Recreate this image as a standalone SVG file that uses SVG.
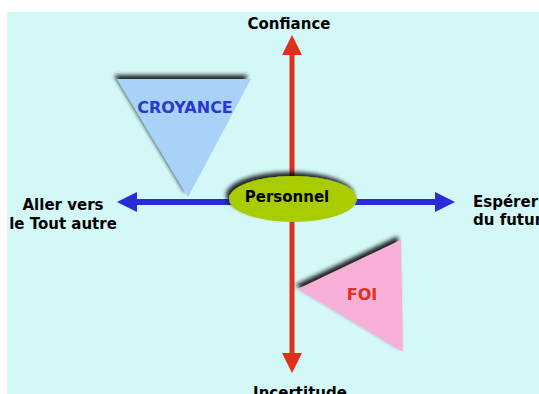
<svg xmlns="http://www.w3.org/2000/svg" width="539" height="394" viewBox="0 0 539 394">
<defs>
<style>
.lbl{font-family:"DejaVu Sans",Verdana,sans-serif;font-weight:bold;font-size:15px;fill:#000}
.in{font-family:"DejaVu Sans",Verdana,sans-serif;font-weight:bold;font-size:16px}
</style>
<filter id="sh" x="-30%" y="-30%" width="160%" height="160%">
<feGaussianBlur in="SourceAlpha" stdDeviation="2"/>
<feOffset dx="-3" dy="-4" result="b"/>
<feComponentTransfer><feFuncA type="linear" slope="0.85"/></feComponentTransfer>
<feMerge><feMergeNode/><feMergeNode in="SourceGraphic"/></feMerge>
</filter>
<marker id="rh" viewBox="0 0 20 20" refX="2" refY="10" markerWidth="20" markerHeight="20" markerUnits="userSpaceOnUse" orient="auto"><path d="M0,0 L20,10 L0,20 z" fill="#e0301c"/></marker>
<marker id="bh" viewBox="0 0 20 20" refX="2" refY="10" markerWidth="20" markerHeight="20" markerUnits="userSpaceOnUse" orient="auto"><path d="M0,0 L20,10 L0,20 z" fill="#2a2ad8"/></marker>
</defs>
<rect x="0" y="0" width="539" height="394" fill="#fff"/>
<rect x="7" y="12" width="532" height="382" fill="#d4f8f8"/>
<g id="connectors">
<line x1="292" y1="190" x2="292" y2="53" stroke="#e0301c" stroke-width="5" marker-end="url(#rh)"/>
<line x1="292" y1="205" x2="292" y2="355" stroke="#e0301c" stroke-width="5" marker-end="url(#rh)"/>
<line x1="292" y1="202" x2="135" y2="202" stroke="#2a2ad8" stroke-width="6" marker-end="url(#bh)"/>
<line x1="292" y1="202" x2="437" y2="202" stroke="#2a2ad8" stroke-width="6" marker-end="url(#bh)"/>
</g>
<g id="croyance">
<polygon points="117,79 251,79 188,197" fill="#a8d2f8" filter="url(#sh)"/>
<text class="in" x="185" y="113" text-anchor="middle" fill="#2a38d0">CROYANCE</text>
</g>
<g id="foi">
<polygon points="298,289 401,240 403,352" fill="#f8b0d8" filter="url(#sh)"/>
<text class="in" x="362" y="300" text-anchor="middle" fill="#e03020">FOI</text>
</g>
<g id="personnel">
<ellipse cx="293" cy="199" rx="64" ry="23" fill="#a8cc00" filter="url(#sh)"/>
<text class="lbl" x="287" y="202" text-anchor="middle">Personnel</text>
</g>
<g id="confiance"><text class="lbl" x="289" y="29" text-anchor="middle">Confiance</text></g>
<g id="incertitude"><text class="lbl" x="300" y="398" text-anchor="middle">Incertitude</text></g>
<g id="aller"><text class="lbl" x="63" y="210" text-anchor="middle">Aller vers</text><text class="lbl" x="63" y="229" text-anchor="middle">le Tout autre</text></g>
<g id="esperer"><text class="lbl" x="473" y="207">Espérer</text><text class="lbl" x="473" y="225">du futur</text></g>
</svg>
